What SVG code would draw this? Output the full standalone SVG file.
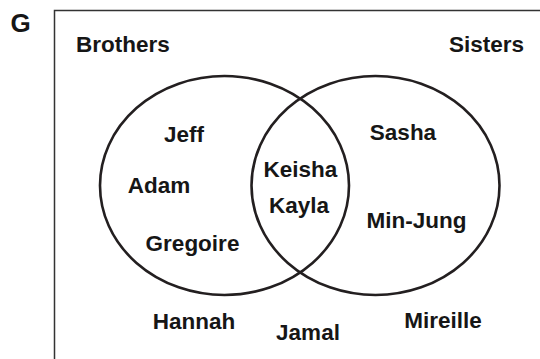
<svg xmlns="http://www.w3.org/2000/svg" width="540" height="359" viewBox="0 0 540 359">
<style>
text{font-family:"Liberation Sans",Arial,Helvetica,sans-serif;font-weight:bold;font-size:22.5px;fill:#161616;text-anchor:middle}
.set{fill:none;stroke:#231f20;stroke-width:2.6}
.frame{fill:none;stroke:#333;stroke-width:1.5}
</style>
<rect width="540" height="359" fill="#fff"/>
<text x="20.5" y="32" style="font-size:26px">G</text>
<g id="frame"><path class="frame" d="M54.5,360 V10.5 H541"/></g>
<g id="brothers"><ellipse class="set" cx="224.5" cy="185.5" rx="124.5" ry="109.5"/><text x="123" y="52">Brothers</text></g>
<g id="sisters"><ellipse class="set" cx="375.5" cy="185.5" rx="124" ry="109.5"/><text x="486.5" y="52">Sisters</text></g>
<g id="connectors"/>
<g id="names">
<text x="184" y="142">Jeff</text>
<text x="159" y="193">Adam</text>
<text x="192.5" y="251">Gregoire</text>
<text x="300.5" y="177">Keisha</text>
<text x="299" y="213">Kayla</text>
<text x="403" y="140">Sasha</text>
<text x="416.5" y="228">Min-Jung</text>
<text x="194" y="329">Hannah</text>
<text x="308" y="340">Jamal</text>
<text x="443" y="328">Mireille</text>
</g>
</svg>
